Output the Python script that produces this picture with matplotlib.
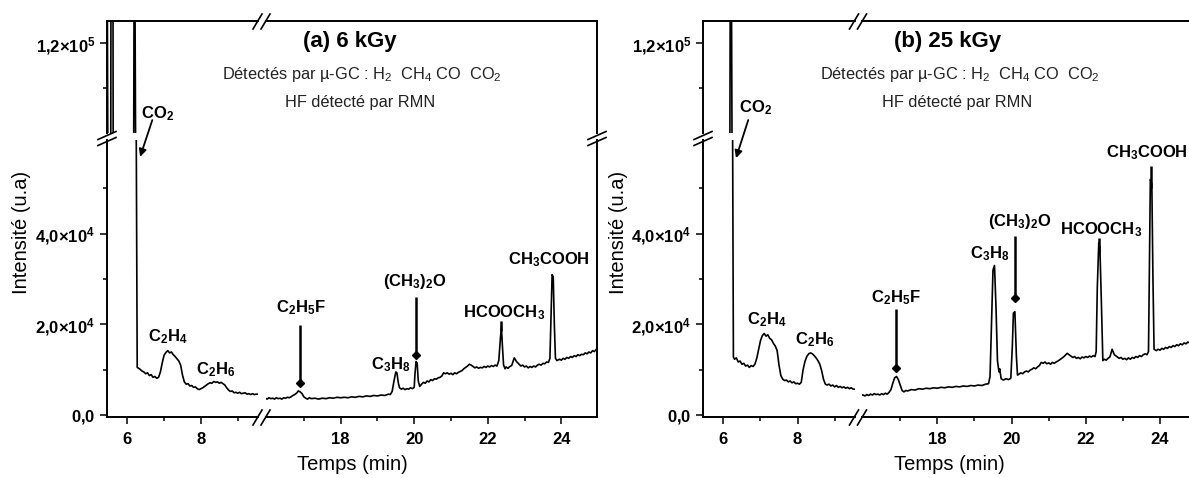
import matplotlib
matplotlib.use("Agg")
import matplotlib.pyplot as plt
from matplotlib.lines import Line2D
import numpy as np

plt.rcParams["font.family"] = ["Liberation Sans", "DejaVu Sans"]
plt.rcParams["mathtext.fontset"] = "custom"
plt.rcParams["mathtext.rm"] = "Liberation Sans"
plt.rcParams["mathtext.it"] = "Liberation Sans:italic"
plt.rcParams["mathtext.bf"] = "Liberation Sans:bold"
plt.rcParams["mathtext.sf"] = "Liberation Sans"

# --- chromatogram (a) 6 kGy: time (min), intensity (a.u.) ---
time_a = [5.45, 5.48, 5.55, 5.56, 5.61, 5.62, 6.17, 6.19, 6.20, 6.27,
          6.33, 6.40, 6.45, 6.50, 6.55, 6.60, 6.65, 6.70, 6.75, 6.80,
          6.85, 6.90, 6.95, 7.00, 7.05, 7.10, 7.15, 7.20, 7.25, 7.30,
          7.35, 7.40, 7.45, 7.50, 7.55, 7.60, 7.65, 7.70, 7.75, 7.80,
          7.85, 7.90, 7.95, 8.00, 8.05, 8.10, 8.15, 8.20, 8.25, 8.30,
          8.35, 8.40, 8.45, 8.50, 8.55, 8.60, 8.65, 8.70, 8.75, 8.80,
          8.85, 8.90, 8.95, 9.00, 9.05, 9.10, 9.15, 9.20, 9.25, 9.30,
          9.35, 9.40, 9.45, 9.50,
          15.95, 16.00, 16.05, 16.10, 16.15, 16.20, 16.25, 16.30, 16.35, 16.40,
          16.45, 16.50, 16.55, 16.60, 16.65, 16.70, 16.75, 16.80, 16.85, 16.90,
          16.95, 17.00, 17.05, 17.10, 17.15, 17.20, 17.30, 17.40, 17.50, 17.60,
          17.70, 17.80, 17.90, 18.00, 18.10, 18.20, 18.30, 18.40, 18.50, 18.60,
          18.70, 18.80, 18.90, 19.00, 19.10, 19.20, 19.30, 19.35, 19.40, 19.45,
          19.50, 19.53, 19.57, 19.60, 19.65, 19.70, 19.75, 19.80, 19.85, 19.90,
          19.95, 20.00, 20.02, 20.05, 20.08, 20.11, 20.15, 20.20, 20.25, 20.30,
          20.35, 20.40, 20.45, 20.50, 20.55, 20.60, 20.65, 20.70, 20.75, 20.80,
          20.85, 20.90, 20.95, 21.00, 21.05, 21.10, 21.15, 21.20, 21.25, 21.30,
          21.35, 21.40, 21.45, 21.50, 21.55, 21.60, 21.65, 21.70, 21.75, 21.80,
          21.85, 21.90, 21.95, 22.00, 22.05, 22.10, 22.15, 22.20, 22.25, 22.30,
          22.34, 22.37, 22.40, 22.43, 22.47, 22.50, 22.55, 22.60, 22.65, 22.72,
          22.78, 22.85, 22.90, 22.95, 23.00, 23.05, 23.10, 23.15, 23.20, 23.25,
          23.30, 23.35, 23.40, 23.45, 23.50, 23.55, 23.60, 23.65, 23.69, 23.72,
          23.75, 23.78, 23.81, 23.84, 23.88, 23.95, 24.00, 24.05, 24.10, 24.15,
          24.20, 24.25, 24.30, 24.35, 24.40, 24.45, 24.50, 24.55, 24.60, 24.65,
          24.70, 24.75, 24.80, 24.85, 24.90, 24.95, 25.00]
sig_a = [150000, 80000, 80000, 150000, 150000, 80000, 80000, 150000, 150000, 10500,
         10200, 9700, 9500, 9100, 9300, 8700, 8900, 8300, 8500, 8100,
         8300, 9500, 11500, 13200, 13800, 14200, 13700, 13900, 13300, 12900,
         12400, 11900, 11000, 8800, 7300, 6800, 6900, 6400, 6500, 6100,
         6200, 5800, 5600, 5800, 6000, 6300, 6600, 6900, 7100, 7000,
         7400, 7200, 7300, 7000, 7200, 6900, 6600, 6000, 5500, 5200,
         5300, 4900, 5000, 4800, 5000, 4700, 4800, 4900, 4600, 4700,
         4500, 4700, 4500, 4600,
         3700, 3500, 3800, 3600, 3700, 3500, 3800, 3600, 3700, 3500,
         3800, 3700, 3900, 3800, 4000, 4300, 4500, 4800, 5300, 5100,
         4700, 4000, 3700, 3500, 3800, 3600, 3700, 3500, 3700, 3600,
         3800, 3700, 3900, 3800, 3900, 3800, 4000, 3900, 4100, 4000,
         4200, 4100, 4300, 4200, 4400, 4300, 4600, 4500, 5200, 7500,
         9500, 9300, 7000, 6000, 5700, 5900, 5600, 5800, 5700, 6000,
         5800, 6100, 9000, 11800, 11500, 7500, 6300, 6800, 7200, 7000,
         7500, 7300, 7800, 7600, 8000, 7900, 8200, 8300, 8600, 9300,
         9100, 9300, 9000, 9200, 8900, 9300, 9100, 9400, 9600, 9800,
         10200, 10500, 10800, 11200, 11000, 10700, 10400, 10600, 10300, 10500,
         10400, 10700, 10500, 10800, 10600, 10900, 10700, 11000, 10800, 12000,
         16500, 19500, 15000, 11000, 10200, 10600, 10300, 10700, 10900, 12600,
         11800, 11200, 10800, 11000, 10600, 10800, 10400, 10700, 10500, 10800,
         10600, 11000, 11200, 11000, 11400, 11300, 11700, 11600, 12500, 22000,
         31000, 30500, 20000, 12500, 12000, 12300, 12100, 12500, 12300, 12700,
         12500, 12900, 12700, 13100, 12900, 13300, 13100, 13400, 13300, 13700,
         13500, 13900, 13700, 14200, 14000, 14500, 14400]

# --- chromatogram (b) 25 kGy ---
time_b = [6.17, 6.19, 6.21, 6.27, 6.30, 6.35, 6.40, 6.45, 6.50, 6.55,
          6.60, 6.65, 6.70, 6.75, 6.80, 6.85, 6.90, 6.95, 7.00, 7.05,
          7.10, 7.15, 7.20, 7.25, 7.30, 7.35, 7.40, 7.45, 7.50, 7.55,
          7.60, 7.65, 7.70, 7.75, 7.80, 7.85, 7.90, 7.95, 8.00, 8.05,
          8.10, 8.15, 8.20, 8.25, 8.30, 8.35, 8.40, 8.45, 8.50, 8.55,
          8.60, 8.65, 8.70, 8.75, 8.80, 8.85, 8.90, 8.95, 9.00, 9.05,
          9.10, 9.15, 9.20, 9.25, 9.30, 9.35, 9.40, 9.45, 9.50,
          16.00, 16.05, 16.10, 16.15, 16.20, 16.25, 16.30, 16.35, 16.40, 16.45,
          16.50, 16.55, 16.60, 16.65, 16.70, 16.75, 16.80, 16.85, 16.90, 16.95,
          17.00, 17.05, 17.10, 17.15, 17.20, 17.30, 17.40, 17.50, 17.60, 17.70,
          17.80, 17.90, 18.00, 18.10, 18.20, 18.30, 18.40, 18.50, 18.60, 18.70,
          18.80, 18.90, 19.00, 19.10, 19.20, 19.30, 19.38, 19.42, 19.46, 19.50,
          19.54, 19.58, 19.62, 19.66, 19.68, 19.72, 19.78, 19.85, 19.92, 19.98,
          20.02, 20.05, 20.09, 20.13, 20.16, 20.20, 20.25, 20.30, 20.35, 20.40,
          20.45, 20.50, 20.55, 20.60, 20.65, 20.70, 20.75, 20.80, 20.85, 20.90,
          20.95, 21.00, 21.05, 21.10, 21.15, 21.20, 21.25, 21.30, 21.35, 21.40,
          21.45, 21.50, 21.55, 21.60, 21.65, 21.70, 21.75, 21.80, 21.85, 21.90,
          21.95, 22.00, 22.05, 22.10, 22.15, 22.20, 22.25, 22.28, 22.31, 22.35,
          22.38, 22.42, 22.46, 22.50, 22.55, 22.60, 22.65, 22.71, 22.77, 22.85,
          22.90, 22.95, 23.00, 23.05, 23.10, 23.15, 23.20, 23.25, 23.30, 23.35,
          23.40, 23.45, 23.50, 23.55, 23.60, 23.65, 23.69, 23.71, 23.74, 23.78,
          23.81, 23.84, 23.90, 23.95, 24.00, 24.05, 24.10, 24.15, 24.20, 24.25,
          24.30, 24.35, 24.40, 24.45, 24.50, 24.55, 24.60, 24.65, 24.70, 24.75,
          24.80, 24.85, 24.90, 24.95, 25.00]
sig_b = [80000, 150000, 150000, 12800, 12300, 12600, 11700, 11900, 11200, 11400,
         10800, 11000, 10500, 10900, 10700, 11200, 12500, 14500, 16400, 17500,
         18000, 17400, 17700, 16900, 16600, 15800, 15200, 14200, 11000, 8700,
         7900, 7600, 7700, 7300, 7500, 7100, 7300, 6900, 7000, 6800,
         7200, 10000, 11800, 12900, 13500, 13700, 13500, 13100, 12600, 12000,
         11200, 9800, 7900, 6800, 6600, 6800, 6400, 6600, 6200, 6500,
         6100, 6300, 6000, 6200, 5900, 6100, 5800, 6000, 5700,
         4400, 4200, 4500, 4300, 4600, 4400, 4700, 4500, 4600, 4400,
         4700, 4500, 4800, 4600, 5000, 5600, 7000, 8200, 8500, 7800,
         6600, 5400, 5100, 5400, 5300, 5600, 5500, 5800, 5700, 5900,
         5800, 6000, 5900, 6100, 6000, 6200, 6100, 6300, 6200, 6400,
         6300, 6500, 6400, 6600, 6500, 6800, 6900, 8500, 20000, 32000,
         33000, 24000, 12000, 9500, 10200, 8000, 7700, 8000, 7800, 8100,
         15000, 22500, 22800, 13000, 8800, 9000, 9300, 9100, 9500, 9700,
         9500, 9900, 10100, 10400, 10200, 10600, 10900, 11600, 11400, 11700,
         11300, 11500, 11200, 11600, 11400, 11700, 11900, 12200, 12500, 12800,
         13200, 13600, 13300, 13000, 12700, 12900, 12500, 12700, 12400, 12800,
         12600, 12900, 12700, 13000, 12800, 13100, 12900, 14000, 28000, 38000,
         37000, 25000, 12000, 12300, 12100, 12500, 12800, 14500, 13300, 12800,
         12500, 12700, 12300, 12500, 12200, 12600, 12300, 12700, 12500, 12900,
         12700, 13100, 12900, 13300, 13500, 13300, 14000, 30000, 52000, 51000,
         30000, 14500, 14200, 14500, 14300, 14700, 14500, 14900, 14700, 15100,
         14900, 15300, 15100, 15500, 15300, 15700, 15500, 15900, 15700, 16100,
         15900, 16300, 16100, 16500, 16300]

# peak labels: (text, time, intensity)
labels_a = [(r"$\mathbf{C_2H_4}$", 7.09, 17200),
            (r"$\mathbf{C_2H_6}$", 8.41, 9900),
            (r"$\mathbf{C_2H_5F}$", 16.91, 23800),
            (r"$\mathbf{C_3H_8}$", 19.37, 11000),
            (r"$\mathbf{(CH_3)_2O}$", 20.00, 29400),
            (r"$\mathbf{HCOOCH_3}$", 22.44, 22600),
            (r"$\mathbf{CH_3COOH}$", 23.67, 34200)]
labels_b = [(r"$\mathbf{C_2H_4}$", 7.17, 21100),
            (r"$\mathbf{C_2H_6}$", 8.45, 16700),
            (r"$\mathbf{C_2H_5F}$", 16.87, 25900),
            (r"$\mathbf{C_3H_8}$", 19.40, 35700),
            (r"$\mathbf{(CH_3)_2O}$", 20.21, 42600),
            (r"$\mathbf{HCOOCH_3}$", 22.42, 40900),
            (r"$\mathbf{CH_3COOH}$", 23.65, 57800)]
# leader lines: (time, top, bottom, diamond marker at bottom)
leaders_a = [(16.90, 19900, 7000, True), (20.04, 26000, 13200, True),
             (22.37, 20800, 18500, False)]
leaders_b = [(16.89, 23500, 10300, True), (20.08, 39500, 25800, True),
             (22.35, 39000, 36000, False), (23.75, 55000, 50000, False)]

W, H = 1189, 478
fig = plt.figure(figsize=(W / 100, H / 100), dpi=100)

XL = (5.45, 9.55)
XR = (15.97, 24.97)
Y_UP = (100000, 125000)
Y_LO = (-450, 60700)
TOP, MID0, MID1, BOT = 21, 133, 140, 417


def add_ax(x0, x1, y0, y1):
    return fig.add_axes([x0 / W, 1 - y1 / H, (x1 - x0) / W, (y1 - y0) / H])


def fline(x0, y0, x1, y1):
    fig.add_artist(Line2D([x0 / W, x1 / W], [1 - y0 / H, 1 - y1 / H],
                          transform=fig.transFigure, color="k", lw=1.2))


def panel(px, t, s, labels, leaders, co2, title, right_spine=True):
    x0, g0, g1, x1 = px
    ul = add_ax(x0, g0, TOP, MID0)
    ur = add_ax(g1, x1, TOP, MID0)
    ll = add_ax(x0, g0, MID1, BOT)
    lr = add_ax(g1, x1, MID1, BOT)
    for ax, xl, yl in [(ul, XL, Y_UP), (ur, XR, Y_UP), (ll, XL, Y_LO), (lr, XR, Y_LO)]:
        ax.plot(t, s, color="k", lw=1.2)
        ax.set_xlim(xl)
        ax.set_ylim(yl)
        ax.patch.set_alpha(0)
        for sp in ax.spines.values():
            sp.set_linewidth(1.4)
        ax.tick_params(which="both", direction="out", width=1.1,
                       labelsize=12, top=False, right=False)
        ax.tick_params(which="major", length=5)
        ax.tick_params(which="minor", length=3)
        ax.tick_params(axis="x", pad=6)
    # spine visibility
    ul.spines[["right", "bottom"]].set_visible(False)
    ur.spines[["left", "bottom"]].set_visible(False)
    ll.spines[["right", "top"]].set_visible(False)
    lr.spines[["left", "top"]].set_visible(False)
    if not right_spine:
        ur.spines["right"].set_visible(False)
        lr.spines["right"].set_visible(False)
    # ticks
    for ax in (ul, ur):
        ax.set_xticks([])
    ur.set_yticks([])
    lr.set_yticks([])
    ul.set_yticks([120000])
    ul.set_yticks([110000], minor=True)
    ul.set_yticklabels([r"$\mathbf{1{,}2{\times}10^{5}}$"])
    ll.set_yticks([0, 20000, 40000])
    ll.set_yticks([10000, 30000, 50000], minor=True)
    ll.set_yticklabels([r"$\mathbf{0{,}0}$", r"$\mathbf{2{,}0{\times}10^{4}}$",
                        r"$\mathbf{4{,}0{\times}10^{4}}$"])
    ll.set_xticks([6, 8])
    ll.set_xticks([7, 9], minor=True)
    lr.set_xticks([18, 20, 22, 24])
    lr.set_xticks([17, 19, 21, 23], minor=True)
    for ax in (ll, lr):
        ax.set_xticklabels([str(v) for v in ax.get_xticks()], fontweight="bold")

    # peak labels and leader lines
    for txt, tx, v in labels:
        ax = ll if tx < 12 else lr
        ax.text(tx, v, txt, ha="center", va="center", fontsize=12, clip_on=False)
    for tx, vt, vb, mk in leaders:
        lr.plot([tx, tx], [vt, vb], color="k", lw=1.8, clip_on=False,
                solid_capstyle="butt")
        if mk:
            lr.plot([tx], [vb], marker="D", ms=4.5, color="k", clip_on=False)
    (lt, lv), (tt, tv), (ht, hv) = co2
    ll.text(lt, lv, r"$\mathbf{CO_2}$", ha="center", va="center", fontsize=12,
            clip_on=False)
    ll.annotate("", xy=(ht, hv), xytext=(tt, tv), annotation_clip=False,
                arrowprops=dict(arrowstyle="-|>", color="k", lw=1.3,
                                mutation_scale=11, shrinkA=0, shrinkB=0))

    # break marks
    gc = (g0 + g1) / 2
    for yb in (BOT, TOP):
        fline(gc - 9, yb + 8, gc, yb - 7)
        fline(gc - 1, yb + 8, gc + 8, yb - 7)
    ym = (MID0 + MID1) / 2
    for xs in ([x0, x1] if right_spine else [x0]):
        fline(xs - 9, ym + 3, xs + 9, ym - 5)
        fline(xs - 9, ym + 9, xs + 9, ym + 1)

    cx = (x0 + x1) / 2
    fig.text((cx - 2) / W, 1 - 42 / H, title, ha="center", va="center",
             fontsize=16, fontweight="bold")
    fig.text((cx + 10) / W, 1 - 75 / H,
             "Détectés par µ-GC : H$_2$  CH$_4$ CO  CO$_2$",
             ha="center", va="center", fontsize=11.8, color="#222222")
    fig.text((cx + 8) / W, 1 - 103 / H, "HF détecté par RMN",
             ha="center", va="center", fontsize=11.8, color="#222222")
    fig.text((x0 - 85) / W, 1 - 232 / H, "Intensité (u.a)", rotation=90,
             ha="center", va="center", fontsize=14.5)
    fig.text(cx / W, 1 - 465 / H, "Temps (min)", ha="center", va="center",
             fontsize=14.5)


panel((107, 258, 266, 597), time_a, sig_a, labels_a, leaders_a,
      ((6.81, 66500), (6.68, 65100), (6.35, 57000)), "(a) 6 kGy")
panel((703, 855, 862, 1196), time_b, sig_b, labels_b, leaders_b,
      ((6.88, 67800), (6.67, 65100), (6.34, 56700)), "(b) 25 kGy",
      right_spine=False)

fig.savefig("out.png", dpi=100)
